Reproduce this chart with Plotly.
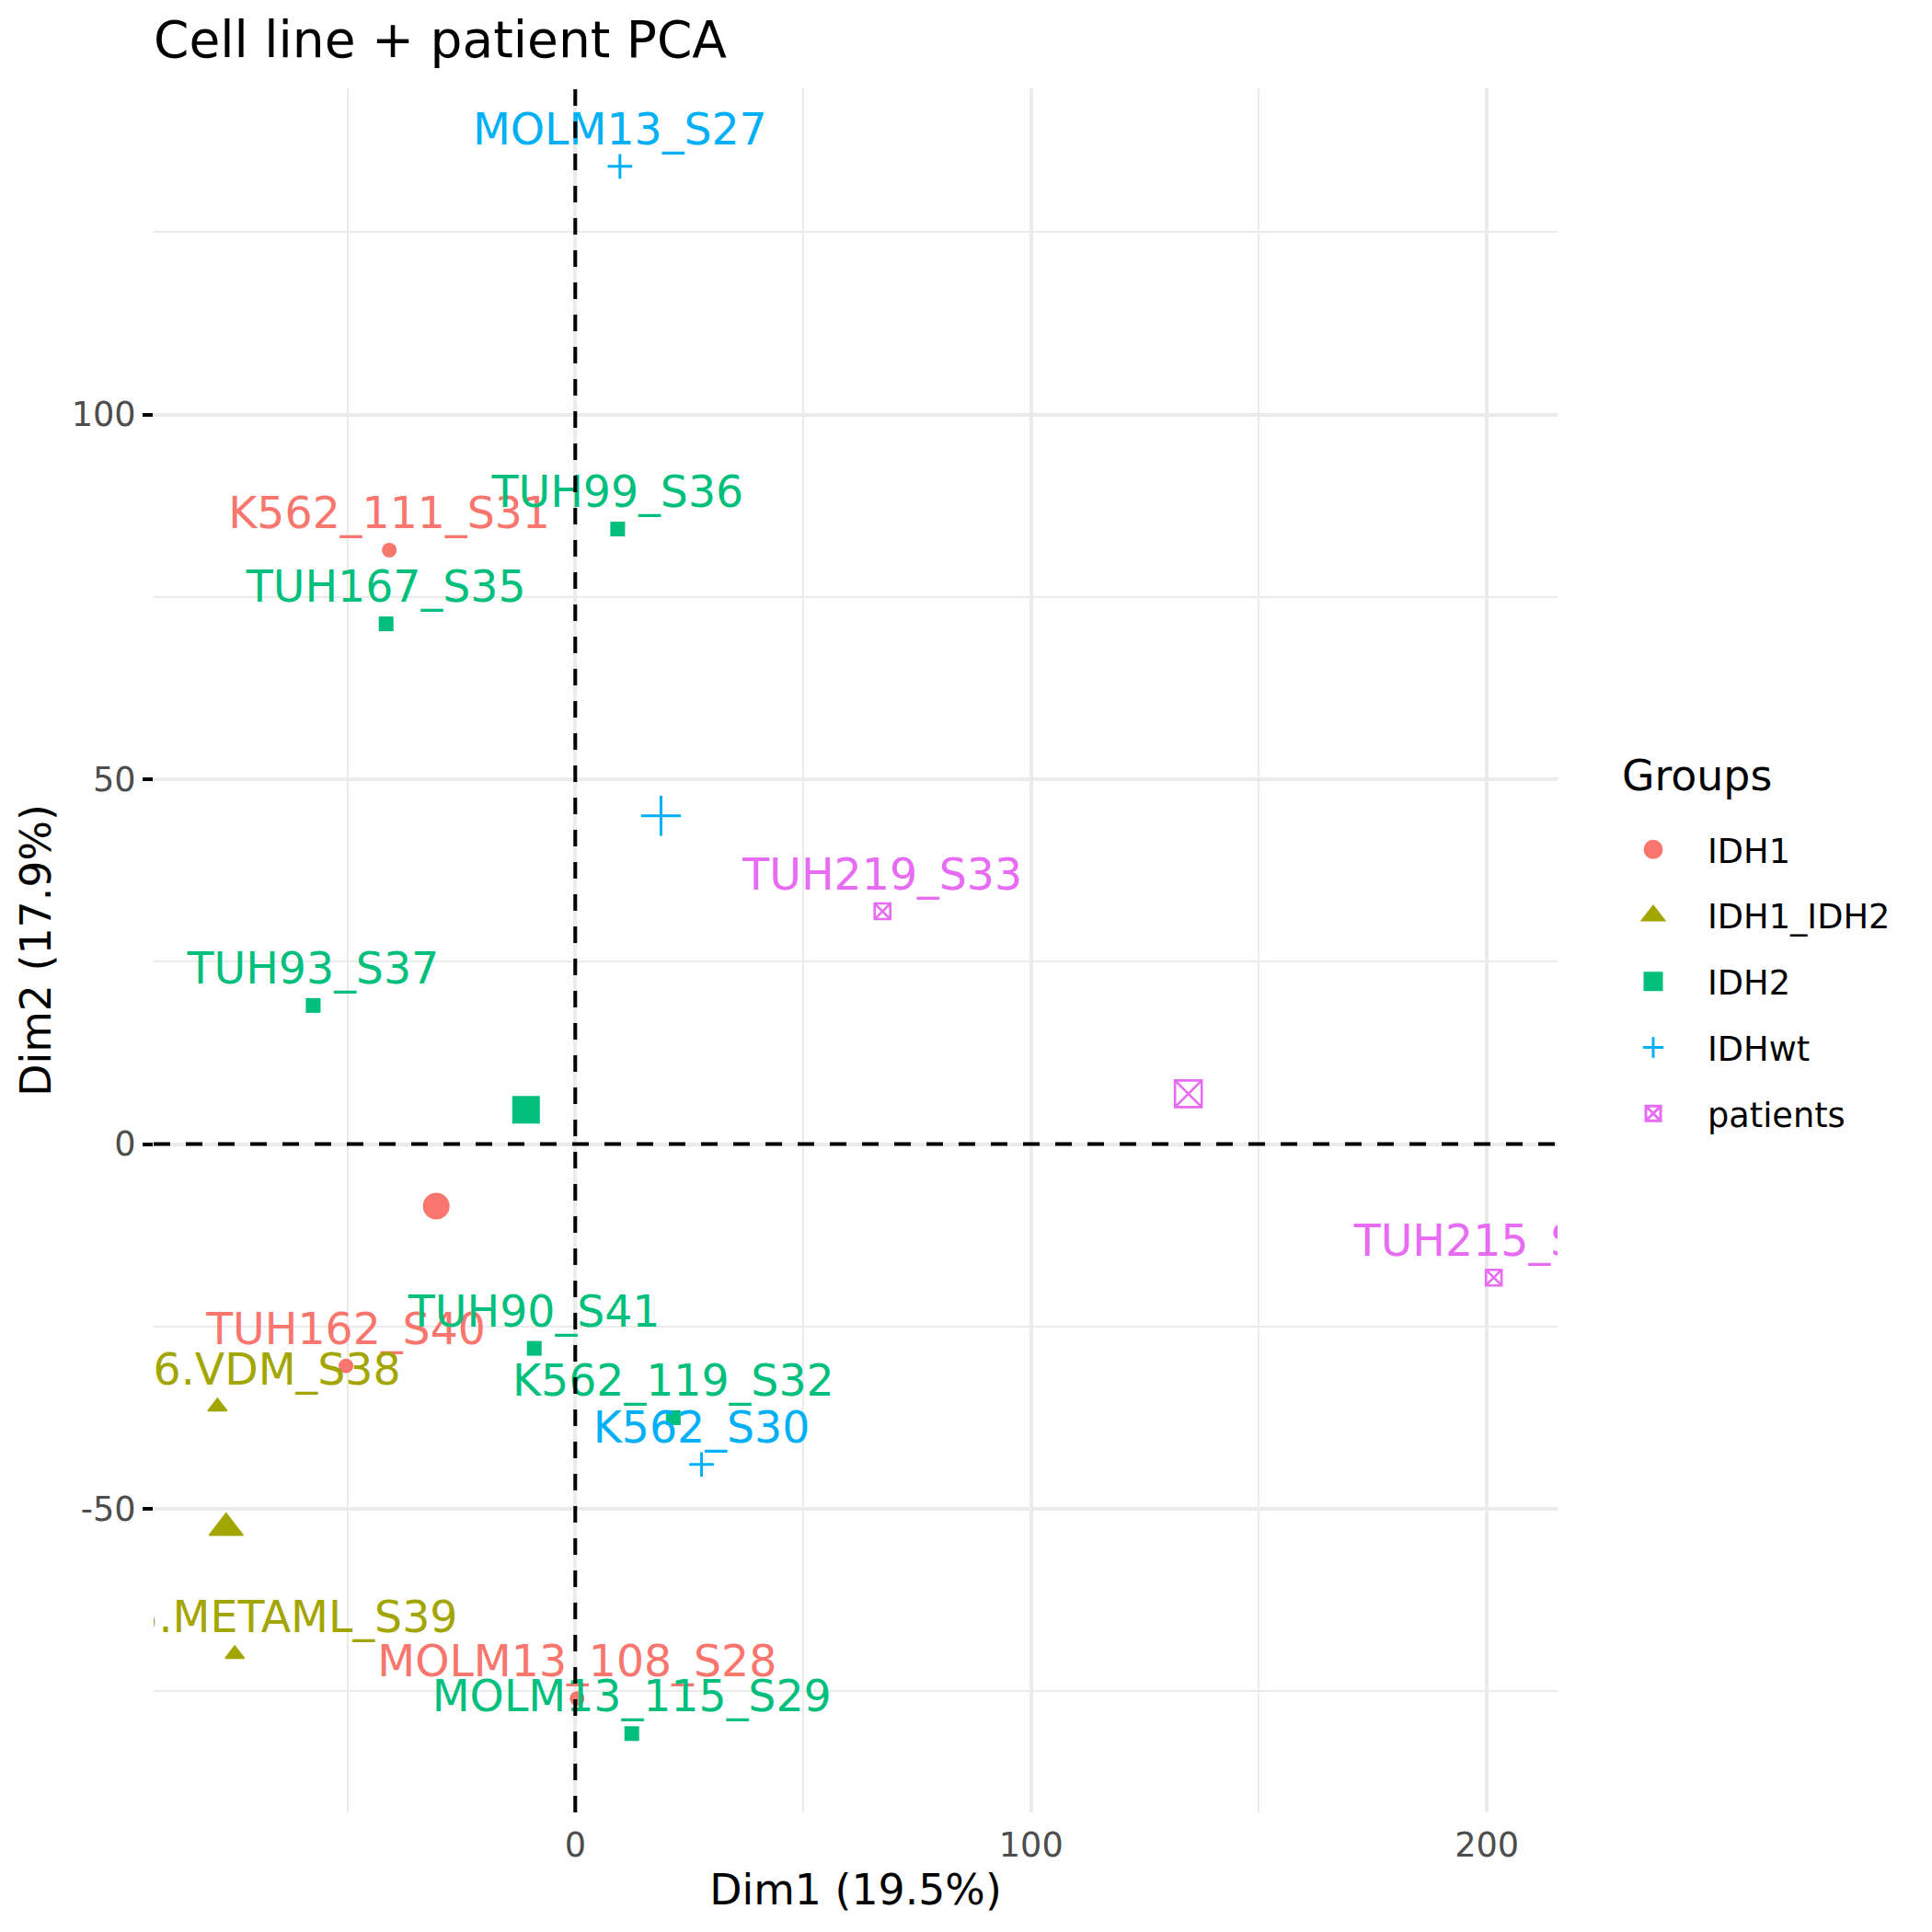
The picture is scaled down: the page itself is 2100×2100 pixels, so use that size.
import plotly.graph_objects as go

# ---- data ----
group_order = ["IDH1", "IDH1_IDH2", "IDH2", "IDHwt", "patients"]
group_colors = ["#F8766D", "#A3A500", "#00BF7D", "#00B0F6", "#E76BF3"]
group_symbols = ["circle", "triangle-up", "square", "cross-thin-open", "square-x-open"]

sample_names = [
    "MOLM13_S27", "K562_111_S31", "TUH99_S36", "TUH167_S35", "TUH219_S33",
    "TUH93_S37", "TUH215_S34", "TUH90_S41", "TUH162_S40", "TUH16.VDM_S38",
    "K562_119_S32", "K562_S30", "TUH15.METAML_S39", "MOLM13_108_S28", "MOLM13_115_S29",
]
sample_groups = [
    "IDHwt", "IDH1", "IDH2", "IDH2", "patients",
    "IDH2", "patients", "IDH2", "IDH1", "IDH1_IDH2",
    "IDH2", "IDHwt", "IDH1_IDH2", "IDH1", "IDH2",
]
dim1 = [9.8, -40.8, 9.3, -41.5, 67.4, -57.5, 201.5, -9.0, -50.3, -78.5, 21.5, 27.7, -74.7, 0.4, 12.4]
dim2 = [134.0, 81.4, 84.3, 71.3, 31.9, 19.0, -18.3, -28.0, -30.4, -36.0, -37.5, -43.9, -69.9, -76.0, -80.8]

# group centres (mean points)
mean_dim1 = [-30.5, -76.6, -10.8, 18.8, 134.5]
mean_dim2 = [-8.5, -52.6, 4.7, 45.0, 6.9]

x_tickvals = [0, 100, 200]
x_ticktext = ["0", "100", "200"]
y_tickvals = [-50, 0, 50, 100]
y_ticktext = ["-50", "0", "50", "100"]

title_text = "Cell line + patient PCA"
x_title = "Dim1 (19.5%)"
y_title = "Dim2 (17.9%)"
legend_title = "Groups"

# ---- styling ----
FONT = "DejaVu Sans"
small_size = {"circle": 16, "triangle-up": 18, "square": 16, "cross-thin-open": 19, "square-x-open": 17}
big_size = {"circle": 29, "triangle-up": 32, "square": 30, "cross-thin-open": 31, "square-x-open": 29}

def line_width(sym):
    if sym == "cross-thin-open":
        return 3
    if sym == "square-x-open":
        return 2.6
    if sym == "triangle-up":
        return 1.5
    return 0

fig = go.Figure()

# sample points
for g, col, sym in zip(group_order, group_colors, group_symbols):
    xs = [x for x, gg in zip(dim1, sample_groups) if gg == g]
    ys = [y for y, gg in zip(dim2, sample_groups) if gg == g]
    fig.add_trace(go.Scatter(
        x=xs, y=ys, mode="markers", showlegend=False, hoverinfo="skip",
        marker=dict(symbol=sym, size=small_size[sym], color=col,
                    line=dict(color=col, width=line_width(sym))),
    ))

# labels
for g, col in zip(group_order, group_colors):
    xs = [x for x, gg in zip(dim1, sample_groups) if gg == g]
    ys = [y for y, gg in zip(dim2, sample_groups) if gg == g]
    ts = [n for n, gg in zip(sample_names, sample_groups) if gg == g]
    fig.add_trace(go.Scatter(
        x=xs, y=ys, text=ts, mode="markers+text", textposition="top center",
        showlegend=False, hoverinfo="skip", cliponaxis=True,
        marker=dict(size=17.6, color="rgba(0,0,0,0)"),
        textfont=dict(family=FONT, size=47.4, color=col),
    ))

# mean points
for g, col, sym, mx, my in zip(group_order, group_colors, group_symbols, mean_dim1, mean_dim2):
    fig.add_trace(go.Scatter(
        x=[mx], y=[my], mode="markers", showlegend=False, hoverinfo="skip",
        marker=dict(symbol=sym, size=big_size[sym], color=col,
                    line=dict(color=col, width=line_width(sym))),
    ))

# legend-only entries
for g, col, sym in zip(group_order, group_colors, group_symbols):
    lw = 5 if sym in ("circle", "square", "triangle-up") else 3
    fig.add_trace(go.Scatter(
        x=[None], y=[None], mode="markers", name=g, legendgroup=g, showlegend=True,
        marker=dict(symbol=sym, size=16, color=col, line=dict(color=col, width=lw)),
    ))

# dashed reference axes
fig.add_shape(type="line", xref="x", yref="paper", x0=0, x1=0, y0=0, y1=1,
              line=dict(color="black", width=4, dash="18px,17px"), layer="above")
fig.add_shape(type="line", xref="paper", yref="y", x0=0, x1=1, y0=0, y1=0,
              line=dict(color="black", width=4, dash="18px,17px"), layer="above")

# legend title as text
fig.add_annotation(text=legend_title, xref="paper", yref="paper",
                   x=1.0446, y=(1970 - 843) / 1874, xanchor="left", yanchor="middle",
                   showarrow=False, font=dict(family=FONT, size=45.8, color="black"))

fig.update_layout(
    width=2100, height=2100,
    margin=dict(l=167, r=407, t=96, b=130),
    paper_bgcolor="white", plot_bgcolor="white",
    font=dict(family=FONT, color="black"),
    title=dict(text=title_text, x=0, xref="paper", xanchor="left",
               y=1 - 43 / 2100, yref="container", yanchor="middle",
               font=dict(family=FONT, size=55, color="black")),
    legend=dict(
        font=dict(family=FONT, size=36.7, color="black"),
        x=(1738 - 167) / 1526, xanchor="left", y=(1970 - 893) / 1874, yanchor="top",
        tracegroupgap=21, itemwidth=108, bgcolor="rgba(0,0,0,0)",
    ),
)

fig.update_xaxes(
    range=[-92.5, 215.5], tickmode="array", tickvals=x_tickvals, ticktext=x_ticktext,
    showgrid=True, gridcolor="#EBEBEB", gridwidth=4.4,
    minor=dict(dtick=50, tick0=0, showgrid=True, gridcolor="#EBEBEB", gridwidth=2.2),
    zeroline=False, showline=False,
    ticks="outside", ticklen=3, tickwidth=3, tickcolor="rgba(0,0,0,0)",
    tickfont=dict(family=FONT, size=36.7, color="#4D4D4D"),
    title=dict(text=x_title, font=dict(family=FONT, size=45.8, color="black"), standoff=2),
)
fig.update_yaxes(
    range=[-91.6, 144.7], tickmode="array", tickvals=y_tickvals, ticktext=y_ticktext,
    showgrid=True, gridcolor="#EBEBEB", gridwidth=4.4,
    minor=dict(dtick=25, tick0=0, showgrid=True, gridcolor="#EBEBEB", gridwidth=2.2),
    zeroline=False, showline=False,
    ticks="outside", ticklen=11, tickwidth=3.5, tickcolor="black",
    tickfont=dict(family=FONT, size=36.7, color="#4D4D4D"),
    title=dict(text=y_title, font=dict(family=FONT, size=45.8, color="black"), standoff=7),
)

fig.write_html("out.html")
